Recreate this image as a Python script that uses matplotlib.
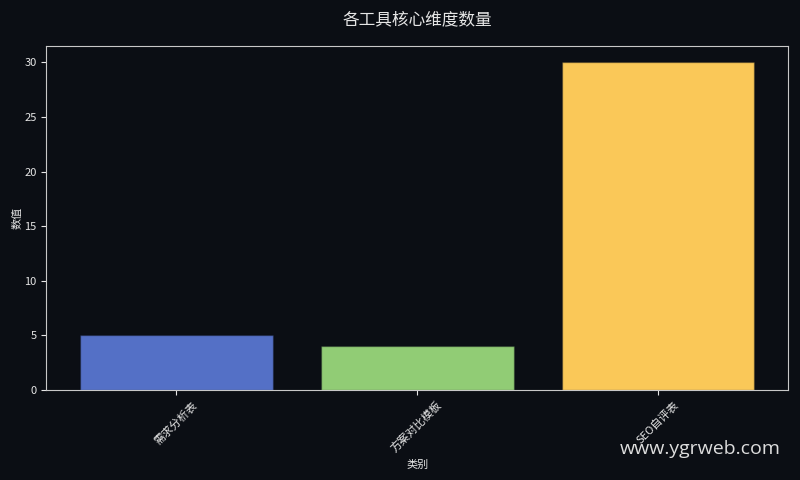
import numpy as np
import matplotlib.pyplot as plt

plt.rcParams['font.family'] = ['Noto Sans CJK SC', 'DejaVu Sans']

categories = ['需求分析表', '方案对比模板', 'SEO自评表']
values = [5, 4, 30]
colors = ['#5470c6', '#91cc75', '#fac858']

bg = '#0b0e14'
fg = '#e6e6e6'

fig, ax = plt.subplots(figsize=(8, 4.8), dpi=100)
fig.patch.set_facecolor(bg)
ax.set_facecolor(bg)

x = np.arange(len(categories))
ax.bar(x, values, width=0.8, color=colors, edgecolor=(0.04, 0.05, 0.08, 0.35), linewidth=1.0)

ax.set_xticks(x)
ax.set_xticklabels(categories, rotation=45)
ax.set_title('各工具核心维度数量', color=fg, fontsize=12, pad=16)
ax.set_xlabel('类别', color=fg, fontsize=8)
ax.set_ylabel('数值', color=fg, fontsize=8, labelpad=1)

ax.tick_params(colors=fg, labelsize=8)
for s in ax.spines.values():
    s.set_color('#c8c8c8')

fig.subplots_adjust(left=0.058, right=0.985, top=0.904, bottom=0.1875)
fig.text(0.976, 0.045, 'www.ygrweb.com', color='#dddddd', fontsize=14,
         ha='right', va='bottom', family=['Open Sans', 'DejaVu Sans'])

plt.savefig('out.png', facecolor=bg)
